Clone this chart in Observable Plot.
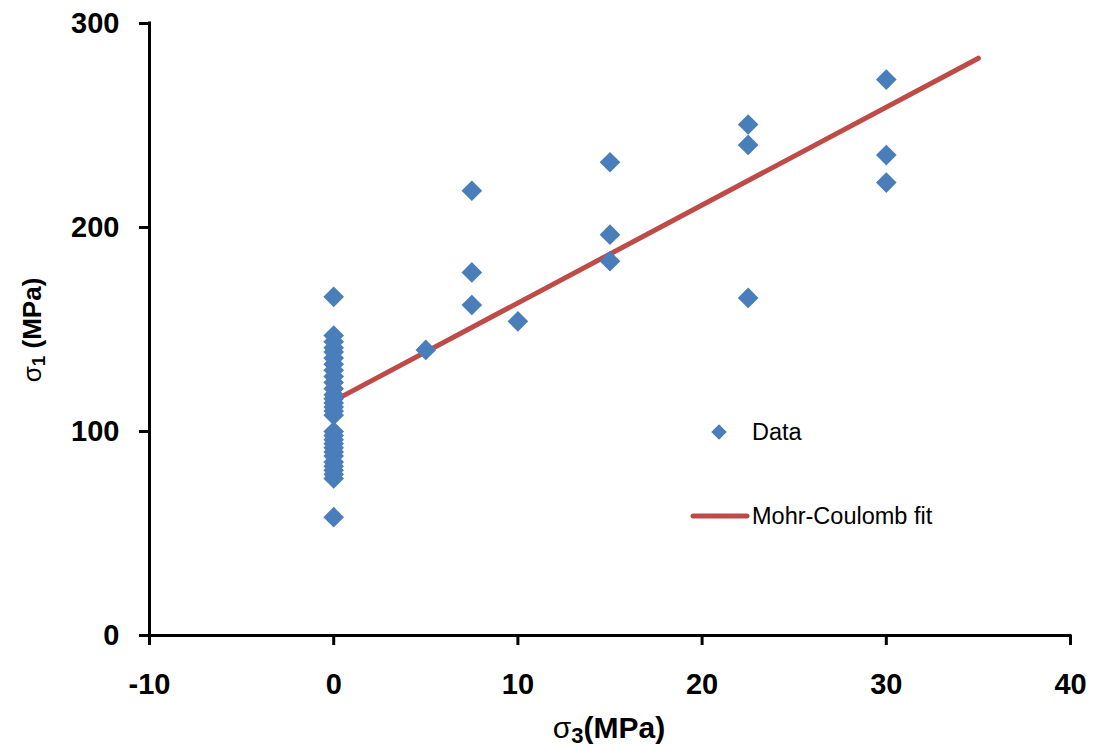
<!DOCTYPE html>
<html>
<head>
<meta charset="utf-8">
<script src="https://cdn.jsdelivr.net/npm/d3@7"></script>
<script src="https://cdn.jsdelivr.net/npm/@observablehq/plot@0.6"></script>
<style>
  html, body { margin: 0; padding: 0; background: #fff; }
  #chart svg { display: block; }
</style>
</head>
<body>
<div id="chart"></div>
<script>
// Confining stress sigma3 (MPa) for each test
const sigma3 = [
  0, 0, 0, 0, 0, 0, 0, 0, 0, 0, 0, 0, 0, 0, 0, 0, 0, 0, 0, 0, 0, 0, 0, 0, 0, 0, 0, 0, 0, 0,
  5,
  7.5, 7.5, 7.5,
  10,
  15, 15, 15,
  22.5, 22.5, 22.5,
  30, 30, 30
];
// Peak strength sigma1 (MPa) for each test
const sigma1 = [
  166, 147, 144, 141, 139, 136, 133, 130, 127, 124, 121, 118, 116, 114, 112, 110, 108,
  100, 98, 96, 94, 92, 90, 88, 85, 83, 81, 79, 77, 58,
  140,
  218, 178, 162,
  154,
  232, 196.5, 183.5,
  250.5, 240.5, 165.5,
  272.5, 235.5, 222
];
// Mohr-Coulomb fit line end points
const fitX = [0, 35];
const fitY = [115, 283];
// Tick values
const xTicks = [-10, 0, 10, 20, 30, 40];
const yTicks = [0, 100, 200, 300];

const points = sigma3.map((x, i) => ({x, y: sigma1[i]}));
const fit = fitX.map((x, i) => ({x, y: fitY[i]}));

const blue = "#4A7EBB";
const red = "#BE4B48";
const font = "'Liberation Sans', Arial, Helvetica, sans-serif";

const chart = Plot.plot({
  width: 1093,
  height: 749,
  marginLeft: 149,
  marginRight: 23,
  marginTop: 23,
  marginBottom: 114,
  style: {fontFamily: font, color: "#000", background: "#fff"},
  x: {domain: [-10, 40], label: null},
  y: {domain: [0, 300], label: null},
  marks: [
    Plot.line(fit, {x: "x", y: "y", stroke: red, strokeWidth: 5, strokeLinecap: "round"}),
    Plot.dot(points, {x: "x", y: "y", symbol: "diamond2", r: 9.3, fill: blue, stroke: "none"}),
    Plot.ruleX([-10], {y1: 0, y2: 300, stroke: "#000", strokeWidth: 3, strokeLinecap: "square"}),
    Plot.ruleY([0], {x1: -10, x2: 40, stroke: "#000", strokeWidth: 3, strokeLinecap: "square"}),
    Plot.axisX({ticks: xTicks, tickFormat: d => d, tickSize: 10, tickPadding: 28, fontSize: 29, fontWeight: "bold", strokeWidth: 3, label: null}),
    Plot.axisY({ticks: yTicks, tickFormat: d => d, tickSize: 10, tickPadding: 20, fontSize: 29, fontWeight: "bold", strokeWidth: 3, label: null})
  ]
});

document.getElementById("chart").appendChild(chart);

const svg = d3.select(chart);

// X axis title: σ3(MPa)
const xt = svg.append("text")
  .attr("x", 609).attr("y", 738)
  .attr("text-anchor", "middle")
  .attr("font-family", font)
  .attr("font-size", 30)
  .attr("fill", "#000");
xt.append("tspan").attr("font-weight", "normal").text("σ");
xt.append("tspan").attr("font-weight", "bold").attr("font-size", 22).attr("dy", 5).text("3");
xt.append("tspan").attr("font-weight", "bold").attr("dy", -5).text("(MPa)");

// Y axis title: σ1 (MPa)
const yt = svg.append("text")
  .attr("transform", "translate(41,330) rotate(-90)")
  .attr("text-anchor", "middle")
  .attr("font-family", font)
  .attr("font-size", 26)
  .attr("fill", "#000");
yt.append("tspan").attr("font-weight", "normal").text("σ");
yt.append("tspan").attr("font-weight", "bold").attr("font-size", 19).attr("dy", 4).text("1");
yt.append("tspan").attr("font-weight", "bold").attr("dy", -4).text(" (MPa)");

// Legend
const lg = svg.append("g")
  .attr("font-family", font).attr("font-size", 23.5).attr("fill", "#000")
  .attr("text-anchor", "start");
lg.append("path")
  .attr("d", d3.symbol(d3.symbolDiamond2, Math.PI * 7 * 7)())
  .attr("transform", "translate(719,432)")
  .attr("fill", blue);
lg.append("text").attr("x", 752).attr("y", 432).attr("dy", "0.35em").attr("text-anchor", "start").text("Data");
lg.append("line")
  .attr("x1", 693).attr("x2", 747).attr("y1", 516).attr("y2", 516)
  .attr("stroke", red).attr("stroke-width", 5).attr("stroke-linecap", "round");
lg.append("text").attr("x", 752).attr("y", 516).attr("dy", "0.35em").attr("text-anchor", "start").text("Mohr-Coulomb fit");
</script>
</body>
</html>
